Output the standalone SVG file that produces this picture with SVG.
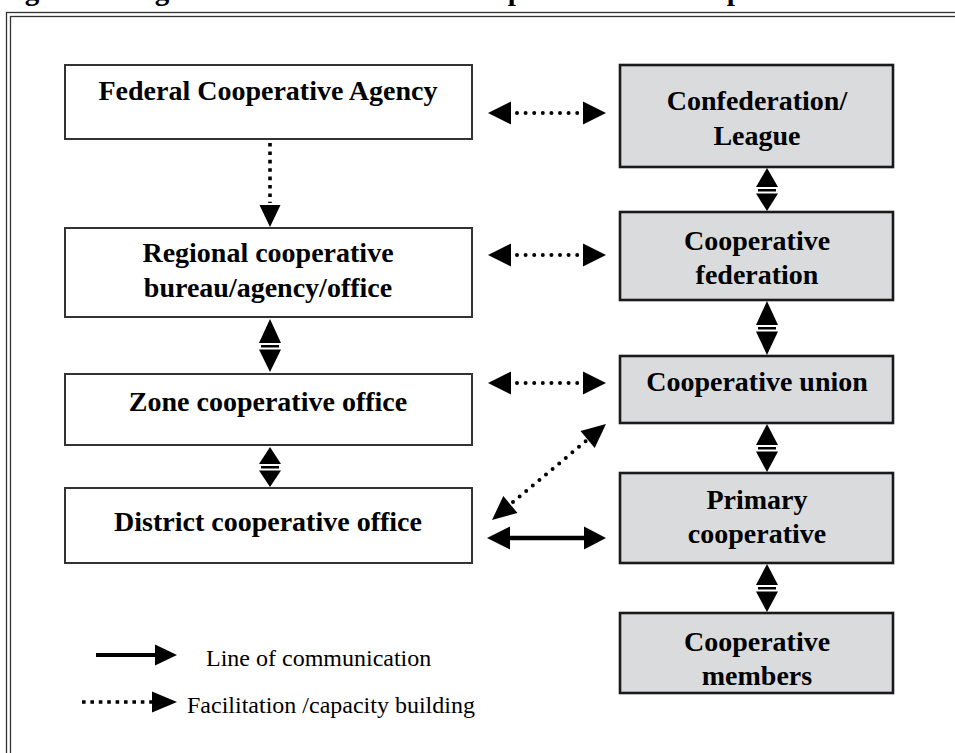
<svg xmlns="http://www.w3.org/2000/svg" width="955" height="753" viewBox="0 0 955 753">
<style>
.t{font-family:"Liberation Serif","Times New Roman",serif;font-weight:bold;font-size:28px;fill:#000;text-anchor:middle}
.lg{font-family:"Liberation Serif","Times New Roman",serif;font-size:24px;fill:#000}
.wb{fill:#fff;stroke:#333;stroke-width:2}
.gb{fill:#dadbdd;stroke:#1a1a1a;stroke-width:2.6}
.fr{fill:none;stroke:#333;stroke-width:1.3}
.dot{stroke:#000;stroke-width:4;stroke-linecap:round;stroke-dasharray:0 8.6;fill:none}
.sq{stroke:#000;stroke-width:3.6;stroke-dasharray:3.6 4.8;fill:none}
.sol{stroke:#000;stroke-width:4.5;fill:none}
.h{fill:#000}
</style>
<text x="-1" y="-0.5" style="font-family:'Liberation Serif','Times New Roman',serif;font-weight:bold;font-size:29px">Figure 1: Organizational structure of cooperatives in Ethiopia</text>
<rect class="fr" x="6.5" y="12.5" width="1000" height="800"/>
<rect class="fr" x="10.5" y="16.5" width="1000" height="800"/>

<g id="federal"><rect class="wb" x="65" y="65" width="407" height="74"/><text class="t" x="268" y="100">Federal Cooperative Agency</text></g>
<g id="regional"><rect class="wb" x="65" y="228" width="407" height="89"/><text class="t" x="268" y="262">Regional cooperative</text><text class="t" x="268" y="297">bureau/agency/office</text></g>
<g id="zone"><rect class="wb" x="65" y="374" width="407" height="71"/><text class="t" x="268" y="411">Zone cooperative office</text></g>
<g id="district"><rect class="wb" x="65" y="488" width="407" height="75"/><text class="t" x="268" y="531">District cooperative office</text></g>

<g id="confederation"><rect class="gb" x="620" y="65" width="273" height="102"/><text class="t" x="757" y="110">Confederation/</text><text class="t" x="757" y="145">League</text></g>
<g id="coopfed"><rect class="gb" x="620" y="212" width="273" height="88"/><text class="t" x="757" y="250">Cooperative</text><text class="t" x="757" y="284">federation</text></g>
<g id="union"><rect class="gb" x="620" y="356" width="273" height="67"/><text class="t" x="757" y="391">Cooperative union</text></g>
<g id="primary"><rect class="gb" x="620" y="473" width="273" height="90"/><text class="t" x="757" y="509">Primary</text><text class="t" x="757" y="543">cooperative</text></g>
<g id="members"><rect class="gb" x="620" y="613" width="273" height="80"/><text class="t" x="757" y="651">Cooperative</text><text class="t" x="757" y="685">members</text></g>

<g id="connectors">
<line class="dot" x1="517" y1="113" x2="578" y2="113"/>
<polygon class="h" points="488,113 511,101.5 511,124.5"/><polygon class="h" points="606,113 583,101.5 583,124.5"/>
<line class="dot" x1="517" y1="255" x2="578" y2="255"/>
<polygon class="h" points="488,255 511,243.5 511,266.5"/><polygon class="h" points="606,255 583,243.5 583,266.5"/>
<line class="dot" x1="517" y1="383" x2="578" y2="383"/>
<polygon class="h" points="488,383 511,371.5 511,394.5"/><polygon class="h" points="606,383 583,371.5 583,394.5"/>
<line class="dot" x1="513" y1="502" x2="586" y2="441"/>
<polygon class="h" points="606,424 594.7,447.9 580.5,431.1"/>
<polygon class="h" points="492,520 517.5,512.9 503.3,496.1"/>
<line class="sol" x1="505" y1="538" x2="590" y2="538"/>
<polygon class="h" points="487,538 510,526.5 510,549.5"/><polygon class="h" points="606,538 584,526.5 584,549.5"/>
<line class="sq" x1="270" y1="143" x2="270" y2="203"/>
<polygon class="h" points="270,227 259.5,205 280.5,205"/>
<g class="h">
<polygon points="270,319 259,343 281,343"/><rect x="261" y="345" width="18" height="2.5"/><polygon points="259,349.5 281,349.5 270,372"/>
<polygon points="270,447 259,464 281,464"/><rect x="261" y="466" width="18" height="2.5"/><polygon points="259,470.5 281,470.5 270,487"/>
<polygon points="767,168 756,187 778,187"/><rect x="758" y="189" width="18" height="2.5"/><polygon points="756,193.5 778,193.5 767,211"/>
<polygon points="767,301 756,325 778,325"/><rect x="758" y="327" width="18" height="2.5"/><polygon points="756,331.5 778,331.5 767,355"/>
<polygon points="767,424 756,445 778,445"/><rect x="758" y="447" width="18" height="2.5"/><polygon points="756,451.5 778,451.5 767,472"/>
<polygon points="767,564 756,585 778,585"/><rect x="758" y="587" width="18" height="2.5"/><polygon points="756,591.5 778,591.5 767,612"/>
</g>
</g>

<g id="legend">
<line x1="96" y1="655" x2="158" y2="655" stroke="#000" stroke-width="4"/>
<polygon class="h" points="177,655 155,644.5 155,665.5"/>
<text class="lg" x="206" y="666">Line of communication</text>
<line class="sq" x1="82" y1="702" x2="152" y2="702"/>
<polygon class="h" points="177,702 152,691.5 152,712.5"/>
<text class="lg" x="187" y="713">Facilitation /capacity building</text>
</g>
</svg>
